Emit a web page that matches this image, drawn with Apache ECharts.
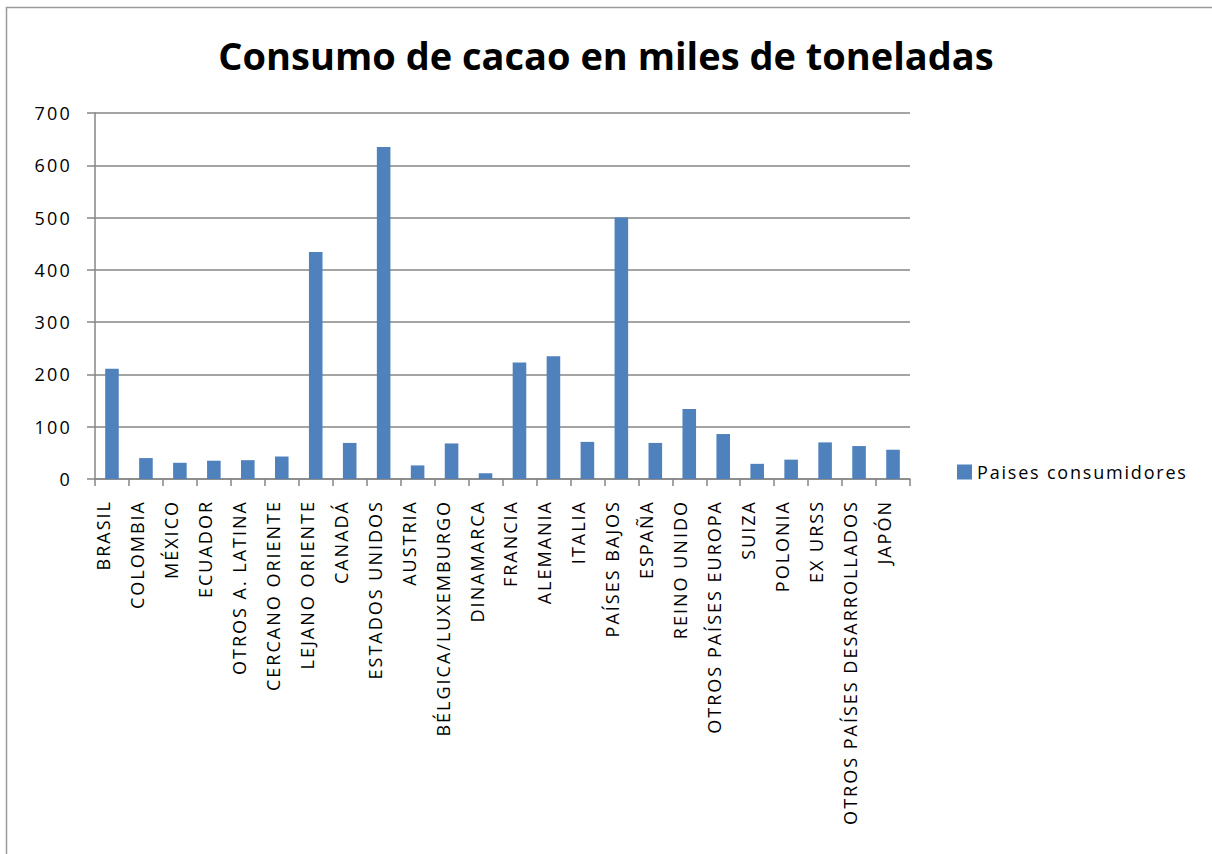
<!DOCTYPE html>
<html>
<head>
<meta charset="utf-8">
<script src="https://cdn.jsdelivr.net/npm/echarts@6/dist/echarts.min.js"></script>
<style>
html,body{margin:0;padding:0;background:#fff;overflow:hidden;}
#c{width:1212px;height:854px;}
</style>
</head>
<body>
<div id="c"></div>
<script>
const categories = ["BRASIL","COLOMBIA","MÉXICO","ECUADOR","OTROS A. LATINA","CERCANO ORIENTE","LEJANO ORIENTE","CANADÁ","ESTADOS UNIDOS","AUSTRIA","BÉLGICA/LUXEMBURGO","DINAMARCA","FRANCIA","ALEMANIA","ITALIA","PAÍSES BAJOS","ESPAÑA","REINO UNIDO","OTROS PAÍSES EUROPA","SUIZA","POLONIA","EX URSS","OTROS PAÍSES DESARROLLADOS","JAPÓN"];
const consumo = [211,40,31,35,36,43,434,69,635,26,68,11,223,235,71,500,69,134,86,29,37,70,63,56];
const seriesName = "Paises consumidores";
const titleText = "Consumo de cacao en miles de toneladas";

const chart = echarts.init(document.getElementById('c'), null, {renderer:'svg'});
const font = "'Open Sans', 'Noto Sans', sans-serif";
chart.setOption({
  animation:false,
  backgroundColor:'#fff',
  textStyle:{fontFamily:font},
  title:{text:titleText,left:'center',top:31,
    textStyle:{fontFamily:font,fontSize:38,fontWeight:'bold',color:'#000'}},
  graphic:[{type:'rect',shape:{x:6.5,y:7.5,width:1400,height:1000},
    style:{fill:'none',stroke:'#9a9a9a',lineWidth:1.5},silent:true}],
  legend:{left:957,top:463,padding:0,itemWidth:15,itemHeight:15,itemGap:6,
    textStyle:{fontFamily:font,fontSize:18,color:'#000'},
    data:[{name:seriesName,icon:'rect'}]},
  grid:{left:95,right:302,top:113,bottom:375,containLabel:false},
  xAxis:{type:'category',data:categories,
    axisLine:{lineStyle:{color:'#868686',width:1.5}},
    axisTick:{show:true,alignWithLabel:false,length:7,lineStyle:{color:'#868686',width:1.5}},
    axisLabel:{rotate:90,interval:0,margin:21,color:'#000',fontFamily:font,fontSize:18,verticalAlign:'bottom'}},
  yAxis:{type:'value',min:0,max:700,interval:100,
    axisLine:{show:true,lineStyle:{color:'#868686',width:1.5}},
    axisTick:{show:true,length:8,lineStyle:{color:'#868686',width:1.5}},
    splitLine:{lineStyle:{color:'#868686',width:1.5}},
    axisLabel:{color:'#000',fontFamily:font,fontSize:18,margin:23}},
  series:[{name:seriesName,type:'bar',data:consumo,barCategoryGap:'60%',
    itemStyle:{color:'#4F81BD'}}]
});

function spaceText(){
  document.querySelectorAll('#c text').forEach(function(t){
    const s = t.textContent;
    if (s === titleText) return;
    if (categories.indexOf(s) >= 0) t.style.letterSpacing = '2.0px';
    else if (s === seriesName) t.style.letterSpacing = '1.8px';
    else t.style.letterSpacing = '2.2px';
  });
}
spaceText();
chart.on('finished', spaceText);
setTimeout(spaceText, 0);
</script>
</body>
</html>
